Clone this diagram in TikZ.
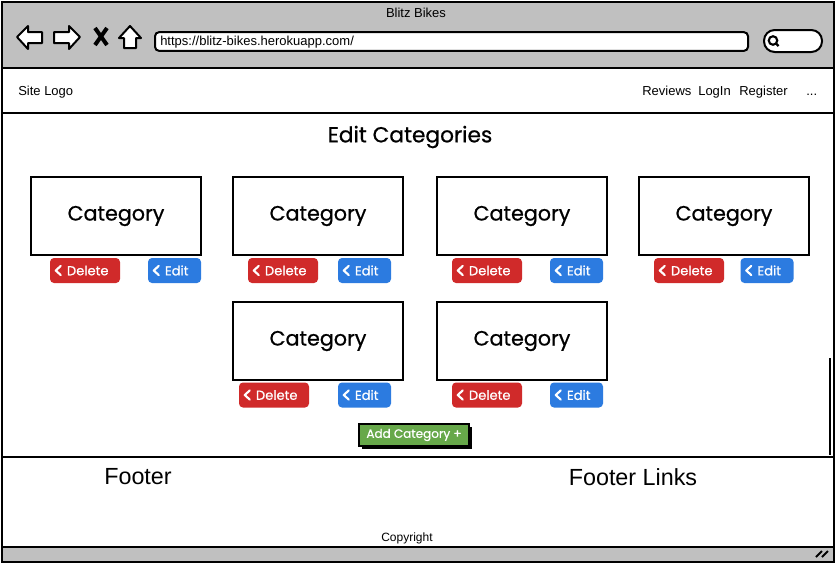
\documentclass[tikz,border=0pt]{standalone}
\usepackage{fontspec}
\setmainfont{Liberation Sans}
\newfontfamily\rnd{Poppins}[FakeBold=0.7]
\definecolor{frame}{HTML}{C0C0C0}
\definecolor{delred}{HTML}{D02A2A}
\definecolor{editblue}{HTML}{2C7BE0}
\definecolor{addgreen}{HTML}{67A84A}
\newcommand\mybtntext[2]{\makebox[#1][l]{\hspace{12.75pt}#2}}
\newcommand\mychev[1]{\draw[chev] ([xshift=8.25pt,yshift=3.4pt]#1.west) -- ([xshift=4.5pt]#1.west) -- ([xshift=8.25pt,yshift=-3.4pt]#1.west);}
\begin{document}
\begin{tikzpicture}[x=0.75pt,y=-0.75pt,
  outline/.style={draw=black,line width=1.5pt},
  catbox/.style={draw=black,line width=1.6pt,fill=white,minimum width=127.5pt,minimum height=58.5pt,inner sep=0pt,font=\rnd\fontsize{15.5}{18}\selectfont},
  btnbase/.style={rounded corners=3pt,minimum height=18.75pt,inner xsep=0pt,inner ysep=0pt,text=white,font=\rnd\fontsize{9.8}{11}\selectfont},
  delbtn/.style={btnbase,fill=delred,minimum width=52.5pt},
  editbtn/.style={btnbase,fill=editblue,minimum width=39.75pt},
  chev/.style={white,line width=1.6pt,line cap=round,line join=round},
  plain/.style={inner sep=0pt,font=\fontsize{9.75}{12}\selectfont},
  bigtxt/.style={inner sep=0pt,font=\fontsize{17.5}{20}\selectfont},
]
\useasboundingbox (0,0) rectangle (836,565);
% window frame
\node[outline,fill=frame,rectangle,minimum width=624pt,minimum height=420pt,inner sep=0pt] (win) at (418,282) {};
\node[plain] (title) at (416,13) {Blitz Bikes};
% nav icons
\draw[outline,fill=white,line join=round] (17,37) -- (28,26) -- (28,32) -- (42,32) -- (42,43) -- (28,43) -- (28,49) -- cycle;
\draw[outline,fill=white,line join=round] (80,37) -- (69,26) -- (69,32) -- (54,32) -- (54,43) -- (69,43) -- (69,49) -- cycle;
\draw[black,line width=3pt] (95,28) -- (107,45) (107,28) -- (95,45);
\draw[outline,fill=white,line join=round] (119,38) -- (130,26) -- (141,38) -- (136,38) -- (136,48) -- (124,48) -- (124,38) -- cycle;
% url bar
\node[outline,fill=white,rounded corners=3pt,minimum width=444.75pt,minimum height=14pt,inner sep=0pt] (url) at (451.5,41.5) {};
\node[plain,anchor=base west] (urltxt) at (160,45.5) {https://blitz-bikes.herokuapp.com/};
% search
\node[outline,fill=white,rounded corners=8pt,minimum width=43.5pt,minimum height=16.5pt,inner sep=0pt] (search) at (793,41) {};
\draw[black,line width=1.6pt] (773,40.5) circle (3.2pt);
\draw[black,line width=1.8pt] (775.5,43) -- (778.5,46);
% nav bar
\node[outline,fill=white,minimum width=624pt,minimum height=33.75pt,inner sep=0pt] (nav) at (418,90.5) {};
\node[plain,anchor=base west] (logo) at (18,95) {Site Logo};
\node[plain,anchor=base west] (rev) at (642,95) {Reviews};
\node[plain,anchor=base west] (login) at (698,95) {LogIn};
\node[plain,anchor=base west] (reg) at (739,95) {Register};
\node[plain,anchor=base west] (more) at (806,95) {...};
% main area
\node[outline,fill=white,minimum width=624pt,minimum height=258pt,inner sep=0pt] (main) at (418,285) {};
\draw[black,line width=1.5pt] (830,358) -- (830,455);
\node[inner sep=0pt,font=\rnd\fontsize{16.3}{19}\selectfont] (head) at (410,137) {Edit Categories};
% categories
\node[catbox] (c1) at (116,216) {Category};
\node[catbox] (c2) at (318,216) {Category};
\node[catbox] (c3) at (522,216) {Category};
\node[catbox] (c4) at (724,216) {Category};
\node[catbox] (c5) at (318,341) {Category};
\node[catbox] (c6) at (522,341) {Category};
% buttons
\node[delbtn] (d1) at (85,270.5) {\mybtntext{52.5pt}{Delete}}; \mychev{d1}
\node[editbtn] (e1) at (174.5,270.5) {\mybtntext{39.75pt}{Edit}}; \mychev{e1}
\node[delbtn] (d2) at (283,270.5) {\mybtntext{52.5pt}{Delete}}; \mychev{d2}
\node[editbtn] (e2) at (364.5,270.5) {\mybtntext{39.75pt}{Edit}}; \mychev{e2}
\node[delbtn] (d3) at (487,270.5) {\mybtntext{52.5pt}{Delete}}; \mychev{d3}
\node[editbtn] (e3) at (576.5,270.5) {\mybtntext{39.75pt}{Edit}}; \mychev{e3}
\node[delbtn] (d4) at (689,270.5) {\mybtntext{52.5pt}{Delete}}; \mychev{d4}
\node[editbtn] (e4) at (767,270.5) {\mybtntext{39.75pt}{Edit}}; \mychev{e4}
\node[delbtn] (d5) at (274,395) {\mybtntext{52.5pt}{Delete}}; \mychev{d5}
\node[editbtn] (e5) at (364.5,395) {\mybtntext{39.75pt}{Edit}}; \mychev{e5}
\node[delbtn] (d6) at (487,395) {\mybtntext{52.5pt}{Delete}}; \mychev{d6}
\node[editbtn] (e6) at (576.5,395) {\mybtntext{39.75pt}{Edit}}; \mychev{e6}
% add category
\fill[black] (362,427) rectangle (472,449);
\node[fill=addgreen,draw=black,line width=0.8pt,minimum width=82.5pt,minimum height=16.5pt,inner sep=0pt,text=white,font=\rnd\fontsize{9}{11}\selectfont] (add) at (414,435) {Add Category +};
% footer
\node[outline,fill=white,minimum width=624pt,minimum height=67.5pt,inner sep=0pt] (foot) at (418,502) {};
\node[bigtxt] (ftxt) at (138,477) {Footer};
\node[bigtxt] (flinks) at (633,477) {Footer Links};
\node[plain,font=\fontsize{9}{11}\selectfont] (copy) at (407,538) {Copyright};
% resize grip
\draw[black,line width=1.5pt] (816,557) -- (822,551) (822,557) -- (828,551);
\end{tikzpicture}
\end{document}
